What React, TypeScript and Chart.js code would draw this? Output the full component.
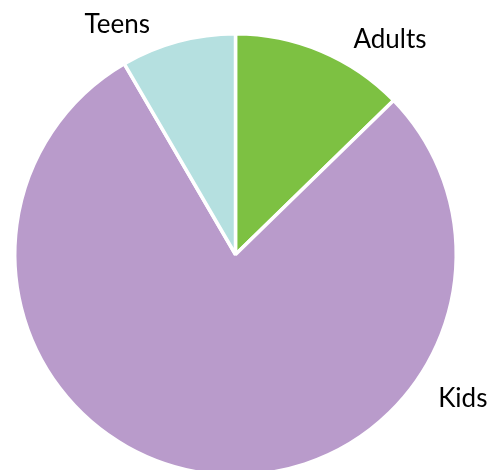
import React, { useEffect, useRef } from "react";
import { Chart, registerables } from "chart.js";

Chart.register(...registerables);

const categories = ["Adults", "Kids", "Teens"];
const values = [12.7, 78.9, 8.4];
const colors = ["#7DC142", "#B99BCB", "#B5E0E0"];

// label anchor: angle (deg, clockwise from top) and distance as multiple of outer radius
const labelAngles = [35.5, 122, -27];
const labelDist = [1.205, 1.214, 1.18];

const labelPlugin = {
  id: "outsideLabels",
  afterDatasetsDraw(chart: any) {
    const meta = chart.getDatasetMeta(0);
    const ctx = chart.ctx;
    ctx.save();
    ctx.font = "26px Lato";
    ctx.fillStyle = "#000000";
    ctx.textAlign = "center";
    ctx.textBaseline = "middle";
    meta.data.forEach((arc: any, i: number) => {
      const a = (labelAngles[i] * Math.PI) / 180;
      const r = arc.outerRadius * labelDist[i];
      const x = arc.x + Math.sin(a) * r;
      const y = arc.y - Math.cos(a) * r + 2;
      ctx.fillText(categories[i], x, y);
    });
    ctx.restore();
  },
};

export default function App() {
  const ref = useRef<HTMLCanvasElement | null>(null);
  useEffect(() => {
    document.body.style.margin = "0";
    const chart = new Chart(ref.current as HTMLCanvasElement, {
      type: "pie",
      data: {
        labels: categories,
        datasets: [
          {
            data: values,
            backgroundColor: colors,
            borderColor: "#FFFFFF",
            borderWidth: 3.5,
          },
        ],
      },
      options: {
        responsive: false,
        animation: false,
        layout: { padding: { left: 13, top: 32, right: 34, bottom: 43 } },
        plugins: {
          legend: { display: false },
          tooltip: { enabled: false },
          title: { display: false },
        },
      },
      plugins: [labelPlugin],
    });
    return () => chart.destroy();
  }, []);
  return (
    <div style={{ position: "absolute", left: 0, top: 0, width: 492, height: 470, overflow: "hidden", background: "#fff" }}>
      <canvas ref={ref} width={492} height={520} style={{ display: "block" }} />
    </div>
  );
}
